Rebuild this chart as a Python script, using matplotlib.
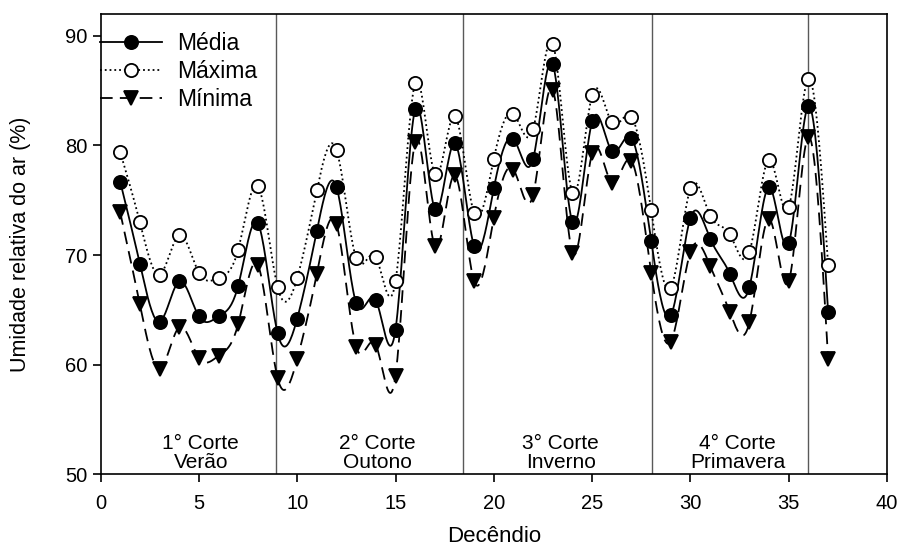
import numpy as np
import matplotlib.pyplot as plt

plt.rcParams['font.family'] = ['Liberation Sans', 'DejaVu Sans']

# Decêndios
decendio = np.arange(1, 38)

# Umidade relativa do ar (%)
media = [76.7, 69.2, 63.9, 67.6, 64.4, 64.4, 67.2, 72.9, 62.9, 64.2,
         72.2, 76.2, 65.6, 65.9, 63.2, 83.3, 74.2, 80.2, 70.8, 76.1,
         80.6, 78.8, 87.4, 73.0, 82.2, 79.5, 80.7, 71.3, 64.5, 73.4,
         71.5, 68.3, 67.1, 76.2, 71.1, 83.6, 64.8]
maxima = [79.4, 73.0, 68.2, 71.8, 68.4, 67.9, 70.5, 76.3, 67.1, 67.9,
          75.9, 79.6, 69.7, 69.8, 67.6, 85.7, 77.4, 82.7, 73.8, 78.8,
          82.9, 81.5, 89.3, 75.7, 84.6, 82.1, 82.6, 74.1, 67.0, 76.1,
          73.6, 71.9, 70.3, 78.7, 74.4, 86.1, 69.1]
minima = [73.9, 65.5, 59.6, 63.4, 60.6, 60.8, 63.7, 69.1, 58.8, 60.5,
          68.3, 72.8, 61.6, 61.8, 59.0, 80.3, 70.8, 77.3, 67.6, 73.4,
          77.8, 75.5, 85.1, 70.2, 79.3, 76.6, 78.6, 68.4, 62.1, 70.3,
          69.0, 64.8, 63.9, 73.3, 67.6, 80.8, 60.5]

# Cortes
cortes_lim = [8.9, 18.45, 28.05, 35.98]
cortes_x = [5.1, 14.1, 23.4, 32.4]
cortes_txt = ['1° Corte\nVerão', '2° Corte\nOutono', '3° Corte\nInverno', '4° Corte\nPrimavera']


def spline(x, y, n=20):
    # spline cúbica natural so para desenhar a curva
    x = np.asarray(x, float)
    y = np.asarray(y, float)
    m = len(x)
    h = np.diff(x)
    A = np.zeros((m, m))
    r = np.zeros(m)
    A[0, 0] = A[-1, -1] = 1
    for i in range(1, m - 1):
        A[i, i - 1] = h[i - 1]
        A[i, i] = 2 * (h[i - 1] + h[i])
        A[i, i + 1] = h[i]
        r[i] = 6 * ((y[i + 1] - y[i]) / h[i] - (y[i] - y[i - 1]) / h[i - 1])
    M = np.linalg.solve(A, r)
    xs, ys = [], []
    for i in range(m - 1):
        t = np.linspace(x[i], x[i + 1], n, endpoint=False)
        a = x[i + 1] - t
        b = t - x[i]
        s = (M[i] * a**3 + M[i + 1] * b**3) / (6 * h[i]) \
            + (y[i] / h[i] - M[i] * h[i] / 6) * a \
            + (y[i + 1] / h[i] - M[i + 1] * h[i] / 6) * b
        xs.extend(t)
        ys.extend(s)
    xs.append(x[-1])
    ys.append(y[-1])
    return np.array(xs), np.array(ys)


fig = plt.figure(figsize=(9, 5.5), dpi=100)
ax = fig.add_axes([0.1117, 0.138, 0.874, 0.8365])

for xc in cortes_lim:
    ax.axvline(xc, color='0.35', lw=1, zorder=1)

series = [
    (media, '-', dict(marker='o', mfc='black', mec='black', ms=9.5), 'Média'),
    (maxima, ':', dict(marker='o', mfc='white', mec='black', ms=9.5), 'Máxima'),
    (minima, (0, (7, 4)), dict(marker='v', mfc='black', mec='black', ms=10), 'Mínima'),
]
handles = []
for vals, ls, mk, lab in series:
    xs, ys = spline(decendio, vals)
    ax.plot(xs, ys, color='black', ls=ls, lw=1.3, zorder=2)
    ax.plot(decendio, vals, ls='none', mew=1.3, zorder=3, **mk)
    h, = ax.plot([], [], color='black', ls=ls, lw=1.3, mew=1.3, **mk)
    handles.append((h, lab))

for xt, txt in zip(cortes_x, cortes_txt):
    ax.text(xt, 50.15, txt, ha='center', va='bottom', fontsize=15, linespacing=1.05)

ax.set_xlim(0, 40)
ax.set_ylim(50, 92)
ax.set_xticks([0, 5, 10, 15, 20, 25, 30, 35, 40])
ax.set_yticks([50, 60, 70, 80, 90])
ax.tick_params(direction='out', length=6, width=1.2, labelsize=14.5)
ax.tick_params(axis='x', pad=8)
for sp in ax.spines.values():
    sp.set_linewidth(1.2)

ax.set_xlabel('Decêndio', fontsize=16, labelpad=10)
ax.set_ylabel('Umidade relativa do ar (%)', fontsize=15.5)
ax.yaxis.set_label_coords(-0.088, 0.5)

ax.legend([h for h, _ in handles], [l for _, l in handles], loc='upper left',
          frameon=False, fontsize=16.5, handlelength=2.7, handletextpad=0.65,
          borderaxespad=0, borderpad=0.3, labelspacing=0.2,
          bbox_to_anchor=(-0.0088, 0.975))

fig.savefig('out.png', dpi=100)
